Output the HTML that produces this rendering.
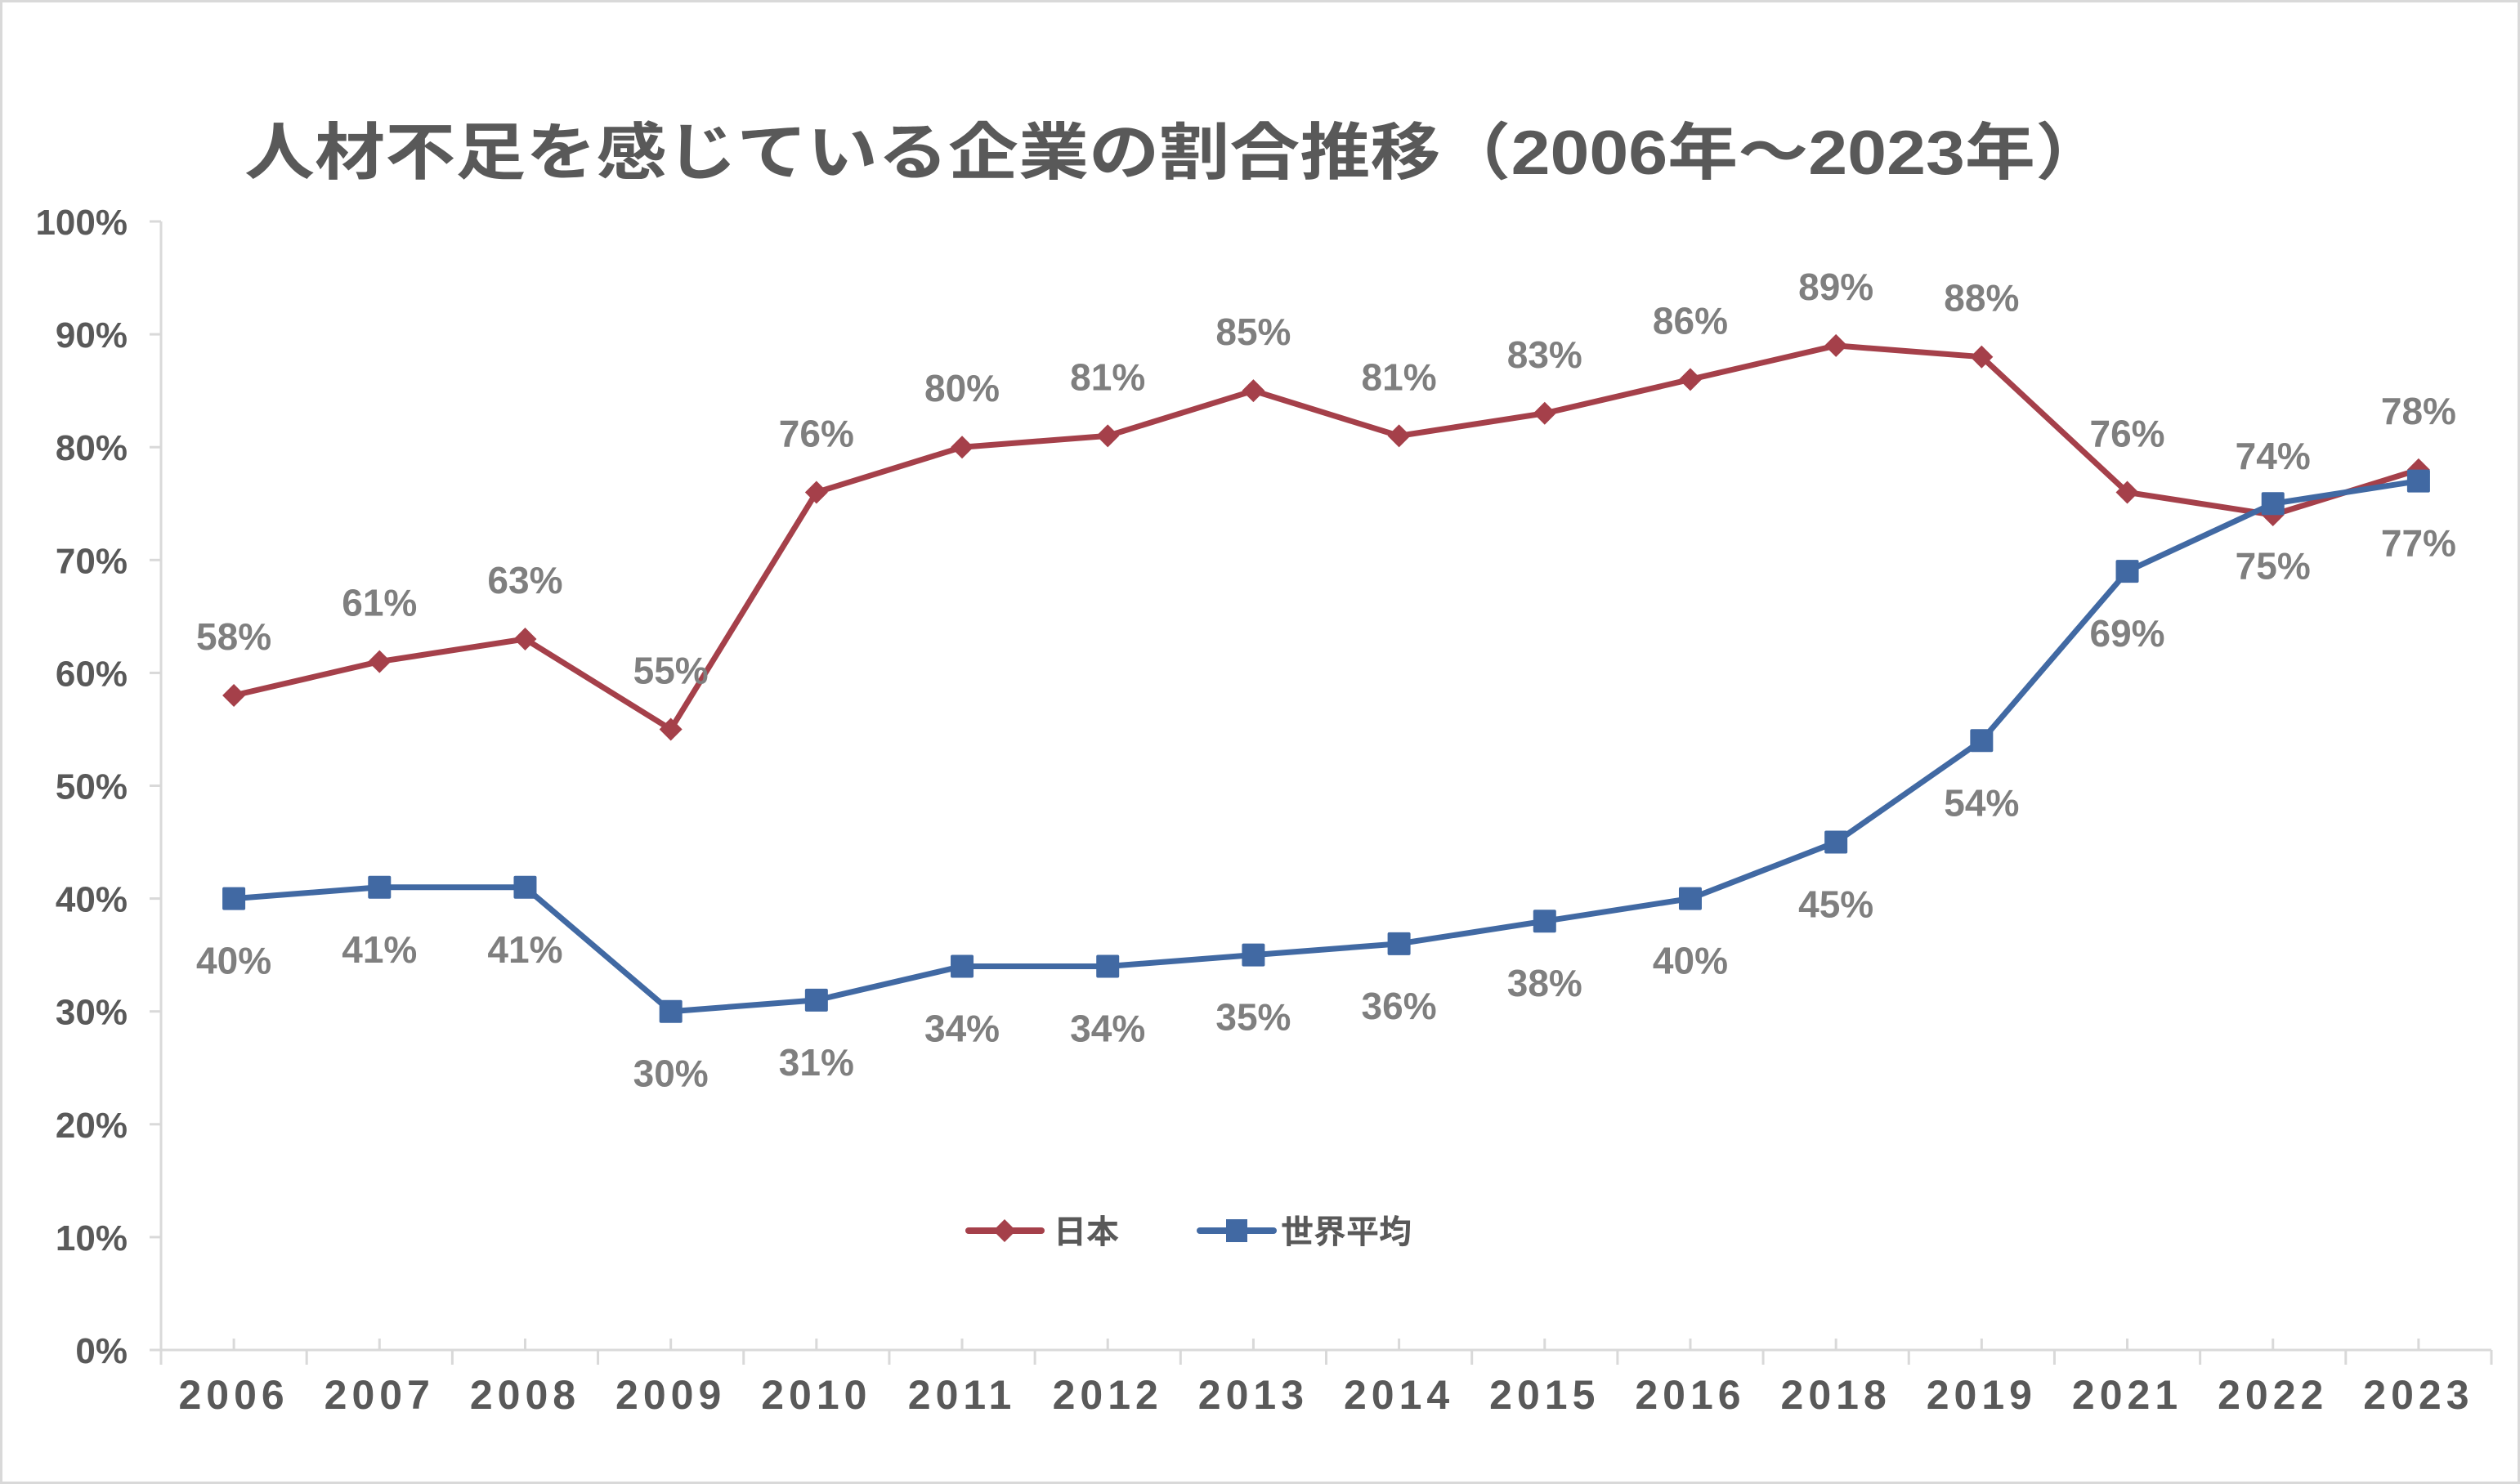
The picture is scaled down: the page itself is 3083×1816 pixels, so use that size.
<!DOCTYPE html>
<html><head><meta charset="utf-8"><style>
html,body{margin:0;padding:0;background:#fff;}
svg{display:block;}
text{font-family:"Liberation Sans","Noto Sans CJK JP",sans-serif;}
</style></head><body>
<svg id="chart" width="3083" height="1816" viewBox="0 0 3083 1816" xmlns="http://www.w3.org/2000/svg">
<rect x="1.5" y="1.5" width="3080" height="1813" fill="#fff" stroke="#d9d9d9" stroke-width="3"/>
<text x="299" y="213" font-size="76" font-weight="bold" fill="#595959" textLength="2277" lengthAdjust="spacingAndGlyphs">人材不足を感じている企業の割合推移（2006年～2023年）</text>
<g id="axes"></g>
<g id="series"></g>
<g id="legend">
<line x1="1185" y1="1506" x2="1274" y2="1506" stroke="#a5404a" stroke-width="8" stroke-linecap="round"/>
<polygon points="1229,1492 1243,1506 1229,1520 1215,1506" fill="#a5404a"/>
<text x="1289" y="1521" font-size="40" font-weight="bold" fill="#595959">日本</text>
<line x1="1468" y1="1506" x2="1558" y2="1506" stroke="#4169a3" stroke-width="8" stroke-linecap="round"/>
<rect x="1500" y="1492" width="26" height="28" fill="#4169a3"/>
<text x="1567" y="1521" font-size="40" font-weight="bold" fill="#595959">世界平均</text>
</g>
</svg>
<script>
const categories = ["2006","2007","2008","2009","2010","2011","2012","2013","2014","2015","2016","2018","2019","2021","2022","2023"];
const japanValues = [58,61,63,55,76,80,81,85,81,83,86,89,88,76,74,78];
const worldValues = [40,41,41,30,31,34,34,35,36,38,40,45,54,69,75,77];
const yTicks = [0,10,20,30,40,50,60,70,80,90,100];

const NS = "http://www.w3.org/2000/svg";
const X0 = 197, X1 = 3048, Y0 = 1652, Y100 = 271;
const step = (X1 - X0) / categories.length;
function xPos(i){ return X0 + step * (i + 0.5); }
function yPos(v){ return Y0 - (Y0 - Y100) * v / 100; }
function mk(tag, attrs, parent){ const e = document.createElementNS(NS, tag); for (const k in attrs) e.setAttribute(k, attrs[k]); parent.appendChild(e); return e; }

const axes = document.getElementById('axes');
const yAxis = mk('line', {x1:X0, y1:Y100, x2:X0, y2:Y0, stroke:'#d9d9d9', 'stroke-width':3}, axes);


const xAxis = mk('line', {x1:X0-14, y1:Y0, x2:X1, y2:Y0, stroke:'#d9d9d9', 'stroke-width':3}, axes);


yTicks.forEach(t => {
  const y = yPos(t);
  mk('line', {x1:X0-14, y1:y, x2:X0, y2:y, stroke:'#d9d9d9', 'stroke-width':3}, axes);
  const lb = mk('text', {x:156, y:y+16, 'font-size':44, 'font-weight':'bold', fill:'#595959', 'text-anchor':'end'}, axes);
  lb.textContent = t + '%';
  
  
});
categories.forEach((c, i) => {
  mk('line', {x1:X0+step*i, y1:Y0, x2:X0+step*i, y2:Y0+18, stroke:'#d9d9d9', 'stroke-width':3}, axes);
  mk('line', {x1:xPos(i), y1:Y0-14, x2:xPos(i), y2:Y0, stroke:'#d9d9d9', 'stroke-width':3}, axes);
  const lb = mk('text', {x:xPos(i), y:1724, 'font-size':50, 'font-weight':'bold', fill:'#595959', 'text-anchor':'middle', 'letter-spacing':'6'}, axes);
  lb.textContent = c;
  
  
});
mk('line', {x1:X1, y1:Y0, x2:X1, y2:Y0+18, stroke:'#d9d9d9', 'stroke-width':3}, axes);

const series = document.getElementById('series');
function drawSeries(vals, color, name, marker, labelDy){
  const pl = mk('polyline', {points: vals.map((v,i)=>xPos(i)+','+yPos(v)).join(' '), fill:'none', stroke:color, 'stroke-width':7, 'stroke-linejoin':'round'}, series);
  
  
  vals.forEach((v,i) => {
    const x = xPos(i), y = yPos(v);
    let m;
    if (marker === 'diamond') m = mk('polygon', {points:`${x},${y-14} ${x+14},${y} ${x},${y+14} ${x-14},${y}`, fill:color}, series);
    else m = mk('rect', {x:x-14, y:y-14, width:28, height:28, rx:2, fill:color}, series);
    
    
    const lb = mk('text', {x:x, y:y+labelDy+17, 'font-size':46, 'font-weight':'bold', fill:'#7f7f7f', 'text-anchor':'middle'}, series);
    lb.textContent = v + '%';
    
    
  });
}
drawSeries(japanValues, '#a5404a', 'japan', 'diamond', -73);
drawSeries(worldValues, '#4169a3', 'world', 'square', 75);
</script>
</body></html>
